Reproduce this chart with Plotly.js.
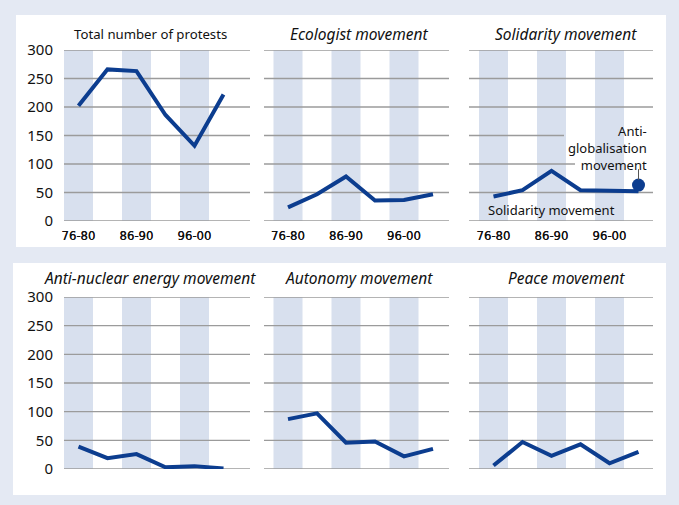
<!DOCTYPE html>
<html><head><meta charset="utf-8">
<script src="https://cdn.plot.ly/plotly-3.0.1.min.js"></script>
<style>html,body{margin:0;padding:0;background:#e4e9f3;}#chart{width:679px;height:505px;}</style>
</head><body><div id="chart"></div>
<script>
// ---- data ----
const periods = ['76-80','81-85','86-90','91-95','96-00','01-05'];
const tickPeriods = ['76-80','86-90','96-00'];
const yTicks = [0,50,100,150,200,250,300];
const panelTitles = ['Total number of protests','Ecologist movement','Solidarity movement',
                     'Anti-nuclear energy movement','Autonomy movement','Peace movement'];
const total       = [202, 266, 263, 186, 132, 222];
const ecologist   = [24, 47, 78, 36, 37, 47];
const solidarity  = [43, 54, 88, 54, 53, 52];
const antiGlobalisation = [63]; // last period only
const antiNuclear = [39, 19, 26, 3, 5, 1];
const autonomy    = [87, 97, 46, 48, 22, 35];
const peace       = [6, 47, 23, 43, 10, 30];

// ---- styling ----
const W = 679, H = 505;
const LINE = '#0c3d8f', BAND = '#d8e0ee', GRID = '#9b9b9b', OUTER = '#e4e9f3';
const FONT = 'Noto Sans, Open Sans, sans-serif';
const NARROW = 'Liberation Sans Narrow, DejaVu Sans Condensed, Arial Narrow, sans-serif';

const xIdx = periods.map((p, i) => i);
const tickIdx = tickPeriods.map(p => periods.indexOf(p));
const series = [total, ecologist, solidarity, antiNuclear, autonomy, peace];

const colsPx = [[64, 250, 78.5], [264, 449, 288], [469, 653, 493.5]]; // left, right, centre of first band
const STEP = 29;
const rowsPx = [[50, 221], [297, 469]];
const px2x = v => v / W, px2y = v => 1 - v / H;

const layout = {
  width: W, height: H, margin: {l: 0, r: 0, t: 0, b: 0},
  paper_bgcolor: OUTER, plot_bgcolor: 'rgba(0,0,0,0)',
  showlegend: false, shapes: [], annotations: []
};

// white panels
layout.shapes.push({type: 'rect', xref: 'paper', yref: 'paper', x0: px2x(16), x1: px2x(666),
  y0: px2y(247), y1: px2y(15), fillcolor: '#ffffff', line: {width: 0}, layer: 'below'});
layout.shapes.push({type: 'rect', xref: 'paper', yref: 'paper', x0: px2x(13), x1: px2x(666),
  y0: px2y(495), y1: px2y(263), fillcolor: '#ffffff', line: {width: 0}, layer: 'below'});

const traces = [];
for (let k = 0; k < 6; k++) {
  const r = Math.floor(k / 3), c = k % 3;
  const n = k + 1;
  const xa = 'xaxis' + (n === 1 ? '' : n), ya = 'yaxis' + (n === 1 ? '' : n);
  const xr = 'x' + (n === 1 ? '' : n), yr = 'y' + (n === 1 ? '' : n);
  const [l, rt, c0] = colsPx[c];
  const [top, bot] = rowsPx[r];
  const x0 = (l - c0) / STEP, x1 = (rt - c0) / STEP;
  layout[xa] = {domain: [px2x(l), px2x(rt)], range: [x0, x1], showgrid: false, zeroline: false,
    showline: false, tickvals: tickIdx, ticktext: tickPeriods, ticks: '', ticklabelstandoff: 5,
    tickfont: {family: NARROW, size: 13, color: '#111'}, fixedrange: true};
  layout[ya] = {domain: [px2y(bot), px2y(top)], range: [0, 300], showgrid: false, zeroline: false,
    showline: false, tickvals: yTicks, ticks: '', showticklabels: c === 0, ticklabelstandoff: 10,
    tickfont: {family: FONT, size: 15, color: '#111'}, fixedrange: true};
  // bands
  tickIdx.forEach(i => layout.shapes.push({type: 'rect', xref: xr, yref: yr, x0: i - 0.5, x1: i + 0.5,
    y0: 0, y1: 300, fillcolor: BAND, line: {width: 0}, layer: 'below'}));
  // gridlines
  yTicks.forEach(v => {
    let xe = x1;
    if (k === 2 && v === 150) xe = (564 - c0) / STEP;
    if (k === 2 && v === 100) xe = (575 - c0) / STEP;
    layout.shapes.push({type: 'line', xref: xr, yref: yr, x0: x0, x1: xe, y0: v, y1: v,
      line: {color: GRID, width: 1.3}, layer: 'between'});
  });
  traces.push({x: xIdx, y: series[k], xaxis: xr, yaxis: yr, type: 'scatter', mode: 'lines',
    line: {color: LINE, width: 4}, hoverinfo: 'skip'});
  // panel title
  const titleCx = [150, 359, 566][c];
  const titleCy = [34, 278][r];
  const italic = k !== 0;
  layout.annotations.push({xref: 'paper', yref: 'paper', x: px2x(titleCx), y: px2y(titleCy),
    xanchor: 'center', yanchor: 'middle', showarrow: false, text: panelTitles[k],
    font: {family: FONT, size: italic ? 15.5 : 13.2, color: '#111', style: italic ? 'italic' : 'normal'}});
}

// anti-globalisation marker in solidarity panel
traces.push({x: [xIdx[5]], y: antiGlobalisation, xaxis: 'x3', yaxis: 'y3', type: 'scatter', mode: 'markers',
  marker: {color: LINE, size: 13}, hoverinfo: 'skip'});
layout.shapes.push({type: 'line', xref: 'x3', yref: 'y3', x0: xIdx[5], x1: xIdx[5], y0: 72, y1: 91,
  line: {color: '#555', width: 1}});
layout.annotations.push({xref: 'paper', yref: 'paper', x: px2x(649), y: px2y(148), xanchor: 'right',
  yanchor: 'middle', align: 'right', showarrow: false, text: 'Anti-<br>globalisation<br>movement',
  font: {family: FONT, size: 13, color: '#111'}});
layout.annotations.push({xref: 'paper', yref: 'paper', x: px2x(551), y: px2y(210), xanchor: 'center',
  yanchor: 'middle', showarrow: false, text: 'Solidarity movement',
  font: {family: FONT, size: 13, color: '#111'}});

Plotly.newPlot('chart', traces, layout, {staticPlot: true, displayModeBar: false});
</script></body></html>
